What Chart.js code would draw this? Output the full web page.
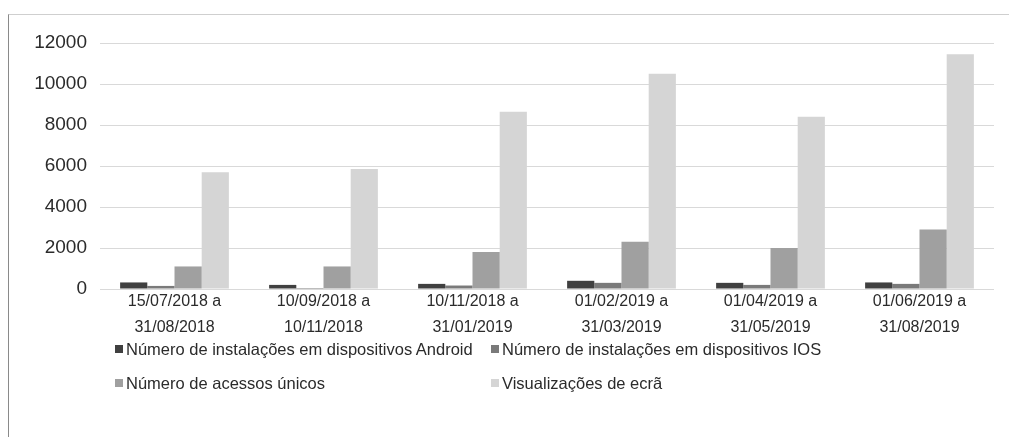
<!DOCTYPE html>
<html>
<head>
<meta charset="utf-8">
<script src="https://cdn.jsdelivr.net/npm/chart.js@4/dist/chart.umd.min.js"></script>
<style>
  html, body { margin: 0; padding: 0; background: #fff; }
  #wrap { position: relative; width: 1018px; height: 437px; overflow: hidden; }
  #frame { position: absolute; left: 8px; top: 14px; width: 1000px; height: 430px;
           border-top: 1px solid #cfcfcf; border-left: 1px solid #8a8a8a; }
  canvas { position: absolute; left: 0; top: 0; }
  #legend { position: absolute; left: 115px; top: 339px; display: grid;
            grid-template-columns: 376px auto; row-gap: 14px;
            font-family: "Liberation Sans", Arial, sans-serif; font-size: 16.5px; color: #2b2b2b; }
  .item { display: flex; align-items: center; height: 20px; white-space: nowrap; }
  .sw { width: 8px; height: 8px; margin-right: 3px; display: inline-block; }
</style>
</head>
<body>
<div id="wrap">
  <div id="frame"></div>
  <canvas id="c" width="1018" height="437"></canvas>
  <div id="legend"></div>
</div>
<script>
const categories = [
  ["15/07/2018 a", "31/08/2018"],
  ["10/09/2018 a", "10/11/2018"],
  ["10/11/2018 a", "31/01/2019"],
  ["01/02/2019 a", "31/03/2019"],
  ["01/04/2019 a", "31/05/2019"],
  ["01/06/2019 a", "31/08/2019"]
];
const seriesNames = [
  "Número de instalações em dispositivos Android",
  "Número de instalações em dispositivos IOS",
  "Número de acessos únicos",
  "Visualizações de ecrã"
];
const android = [320, 200, 250, 400, 300, 320];
const ios = [150, 50, 170, 300, 200, 250];
const acessos = [1100, 1100, 1800, 2300, 2000, 2900];
const visualizacoes = [5700, 5850, 8650, 10500, 8400, 11450];
const yTicks = [0, 2000, 4000, 6000, 8000, 10000, 12000];
const colors = ["#404040", "#7a7a7a", "#a0a0a0", "#d5d5d5"];

const seriesData = [android, ios, acessos, visualizacoes];
const datasets = seriesNames.map((name, i) => ({
  label: name,
  data: seriesData[i],
  backgroundColor: colors[i],
  borderWidth: 0,
  categoryPercentage: 0.73,
  barPercentage: 1.0
}));

new Chart(document.getElementById("c"), {
  type: "bar",
  data: { labels: categories, datasets },
  options: {
    responsive: false,
    animation: false,
    devicePixelRatio: 1,
    layout: { padding: { top: 43, right: 24, bottom: 93, left: 0 } },
    plugins: { legend: { display: false }, tooltip: { enabled: false } },
    scales: {
      x: {
        grid: { display: false },
        border: { display: false },
        afterFit: (axis) => { axis.height = 55; },
        ticks: {
          color: "#2b2b2b",
          font: { family: "'Liberation Sans', Arial, sans-serif", size: 16, lineHeight: 1.65 },
          padding: -9,
          maxRotation: 0,
          autoSkip: false
        }
      },
      y: {
        min: 0,
        max: 12000,
        afterBuildTicks: (axis) => { axis.ticks = yTicks.map(v => ({ value: v })); },
        afterFit: (axis) => { axis.width = 100; },
        grid: { color: "#d9d9d9", drawTicks: false, lineWidth: 1 },
        border: { display: false },
        ticks: {
          color: "#2b2b2b",
          font: { family: "'Liberation Sans', Arial, sans-serif", size: 19 },
          padding: 13,
          callback: (v) => String(v)
        }
      }
    }
  }
});

const leg = document.getElementById("legend");
seriesNames.forEach((name, i) => {
  const d = document.createElement("div");
  d.className = "item";
  const s = document.createElement("span");
  s.className = "sw";
  s.style.background = colors[i];
  d.appendChild(s);
  d.appendChild(document.createTextNode(name));
  leg.appendChild(d);
});
</script>
</body>
</html>
